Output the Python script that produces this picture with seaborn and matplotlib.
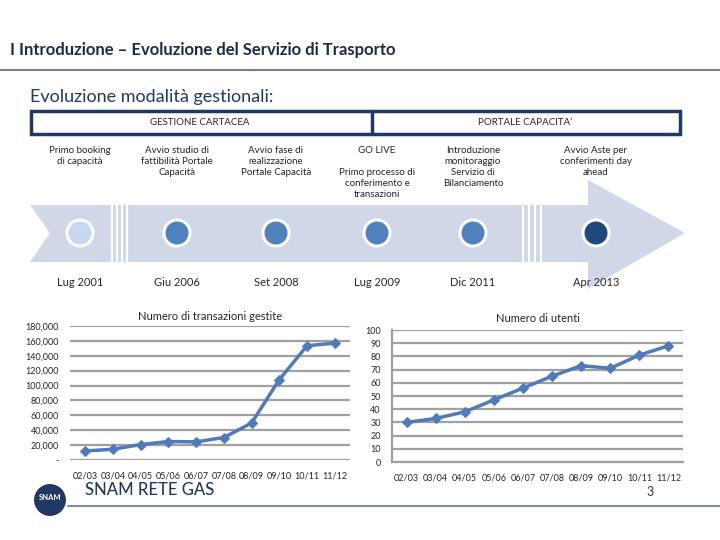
import numpy as np
import pandas as pd
import seaborn as sns
import matplotlib.pyplot as plt
from matplotlib.patches import Polygon, Rectangle, Circle

# data
seasons = ['02/03', '03/04', '04/05', '05/06', '06/07', '07/08', '08/09', '09/10', '10/11', '11/12']
transazioni = [12200, 14400, 20800, 24800, 24400, 30200, 49700, 108000, 153500, 157000]
utenti = [30, 33, 38, 47, 56, 65, 73, 71, 81, 88]
date_eventi = ['Lug 2001', 'Giu 2006', 'Set 2008', 'Lug 2009', 'Dic 2011', 'Apr 2013']
testi_eventi = ['Primo booking\ndi capacità',
                'Avvio studio di\nfattibilità Portale\nCapacità',
                'Avvio fase di\nrealizzazione\nPortale Capacità',
                'GO LIVE\n\nPrimo processo di\nconferimento e\ntransazioni',
                'Introduzione\nmonitoraggio\nServizio di\nBilanciamento',
                'Avvio Aste per\nconferimenti day\nahead']
colori_eventi = ['#c6d9f1', '#4f81bd', '#4f81bd', '#4f81bd', '#4f81bd', '#1f497d']
x_eventi = [80, 177, 276, 377, 473, 596]

sns.set_theme(style='white')
plt.rcParams['font.family'] = ['Lato', 'DejaVu Sans']

navy = '#1f3864'
linecol = '#4f7bba'
gridcol = '#a0a0a0'

fig = plt.figure(figsize=(7.2, 5.4), dpi=100)
bg = fig.add_axes([0, 0, 1, 1])
bg.set_xlim(0, 720)
bg.set_ylim(540, 0)
bg.axis('off')

# header
bg.text(10, 50, 'I Introduzione – Evoluzione del Servizio di Trasporto', fontsize=12,
        fontweight='bold', color='#1f2a44', va='center')
bg.plot([0, 720], [70, 70], color='#7f7f7f', lw=1.5)
bg.text(30, 97, 'Evoluzione modalità gestionali:', fontsize=13, color=navy, va='center')

# phase box
bg.add_patch(Rectangle((31, 111), 649, 23, fill=False, edgecolor=navy, lw=2.5))
bg.plot([372, 372], [111, 134], color=navy, lw=2.5)
bg.text(200, 122.5, 'GESTIONE CARTACEA', fontsize=7, ha='center', va='center')
bg.text(525, 122.5, "PORTALE CAPACITA’", fontsize=7, ha='center', va='center')

# timeline arrow
arrow = [(30, 205), (588, 205), (588, 180), (685, 233), (588, 289),
         (588, 262), (30, 262), (50, 233)]
bg.add_patch(Polygon(arrow, closed=True, facecolor='#d0d8e8', edgecolor='none'))
for xs in [112, 117, 122, 127, 523, 529, 535, 541]:
    bg.plot([xs, xs], [205, 262], color='white', lw=1.5)

for x, c, d, t in zip(x_eventi, colori_eventi, date_eventi, testi_eventi):
    bg.add_patch(Circle((x, 233), 14.5, facecolor='white', edgecolor='none'))
    bg.add_patch(Circle((x, 233), 11.5, facecolor=c, edgecolor='none'))
    bg.text(x, 282, d, fontsize=8, ha='center', va='center')
    bg.text(x, 146, t, fontsize=7, ha='center', va='top', linespacing=1.3)

# footer
bg.add_patch(Circle((50, 500), 17, facecolor=navy, edgecolor='white', lw=1.5))
bg.text(50, 497, 'SNAM', fontsize=5.5, color='white', fontweight='bold', ha='center', va='center')
bg.text(85, 490, 'SNAM RETE GAS', fontsize=12, color=navy, fontweight='medium', va='center')
bg.text(650, 492, '3', fontsize=9, color=navy, ha='center', va='center')
bg.plot([68, 720], [506, 506], color='#7f8c9c', lw=1.5)

df = pd.DataFrame({'stagione': seasons, 'transazioni': transazioni, 'utenti': utenti})
df['pos'] = range(len(df))

# left chart
ax1 = fig.add_axes([70 / 720, 1 - 460 / 540, 280 / 720, 134 / 540])
ax1.set_facecolor('none')
sns.lineplot(data=df, x='pos', y='transazioni', ax=ax1, color=linecol, lw=2.5,
             marker='D', markersize=5, markeredgecolor=linecol)
ax1.set_ylim(0, 180000)
ax1.set_yticks(np.arange(0, 180001, 20000))
ax1.set_yticklabels(['-'] + [f'{v:,}' for v in range(20000, 180001, 20000)])
ax1.set_xlim(-0.55, 9.55)
ax1.set_xticks(df['pos'])
ax1.set_xticklabels(seasons)
ax1.grid(axis='y', color=gridcol, lw=1.6)
ax1.set_axisbelow(True)
for s in ax1.spines.values():
    s.set_visible(False)
ax1.tick_params(labelsize=6.5, pad=8, length=0)
ax1.set_xlabel('')
ax1.set_ylabel('')
ax1.set_title('Numero di transazioni gestite', fontsize=8, pad=4)

# right chart
ax2 = fig.add_axes([392 / 720, 1 - 462 / 540, 291 / 720, 132 / 540])
ax2.set_facecolor('none')
sns.lineplot(data=df, x='pos', y='utenti', ax=ax2, color=linecol, lw=2.5,
             marker='D', markersize=5, markeredgecolor=linecol)
ax2.set_ylim(0, 100)
ax2.set_yticks(range(0, 101, 10))
ax2.set_xlim(-0.5, 9.5)
ax2.set_xticks(df['pos'])
ax2.set_xticklabels(seasons)
ax2.grid(axis='y', color=gridcol, lw=1.6)
ax2.set_axisbelow(True)
for k in ['top', 'right']:
    ax2.spines[k].set_visible(False)
for k in ['left', 'bottom']:
    ax2.spines[k].set_color(gridcol)
    ax2.spines[k].set_linewidth(1.6)
ax2.tick_params(labelsize=6.5, pad=8, length=0)
ax2.set_xlabel('')
ax2.set_ylabel('')
ax2.set_title('Numero di utenti', fontsize=8, pad=6)

fig.savefig('out.png', dpi=100)
